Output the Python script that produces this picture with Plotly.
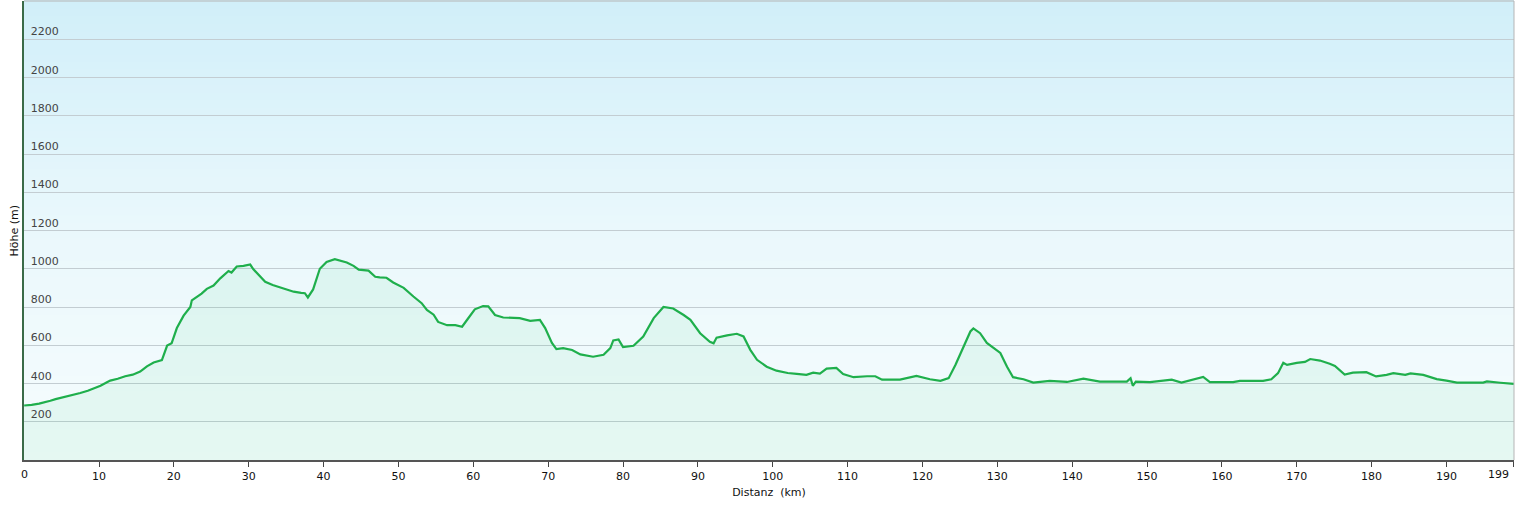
import plotly.graph_objects as go

# Elevation profile: distance (km) and elevation (m)
distanz_km = [
    0, 1, 2, 2.8, 3.5, 4.2, 5, 5.5, 6.5, 7.5, 8.5, 9.5, 10.2, 11, 11.5, 12.5, 13.5, 14.5,
    15.5, 16.4, 17.3, 18.4, 19.1, 19.7, 20.4, 21.3, 22.2, 22.4, 23.7, 24.4, 25.3, 26.2,
    27.3, 27.7, 28.4, 29.3, 30.2, 30.6, 31.4, 32.2, 33.2, 34.2, 35.1, 36, 37, 37.5, 37.9,
    38.6, 39.5, 40.4, 41.5, 42.3, 43.1, 44, 44.7, 46, 46.9, 47.5, 48.4, 49.3, 50.2, 50.7,
    52, 53.1, 53.8, 54.7, 55.3, 56.5, 57.6, 58.5, 59.3, 60.2, 61.3, 62, 62.9, 64, 66.2,
    67.6, 68.9, 69.6, 70.5, 71.1, 72, 73.2, 74.3, 76, 77.4, 78.3, 78.7, 79.4, 80, 81.4,
    82.7, 84.1, 85.4, 86.7, 88.1, 89, 90.3, 91.6, 92.1, 92.5, 93.9, 95.2, 96.1, 97, 97.9,
    99.2, 100.5, 102, 103.2, 104.5, 105.4, 106.3, 107.2, 108.5, 109.4, 110.8, 112.6,
    113.7, 114.6, 117, 119.2, 121, 122.4, 123.5, 124.4, 125.5, 126.4, 126.8, 127.7, 128.6,
    129.5, 130.4, 131.3, 132.1, 133.5, 134.8, 137, 139.3, 141.5, 143.7, 147.3, 147.8,
    148.1, 148.5, 150.4, 153.3, 154.6, 156.2, 157.5, 158.4, 161.5, 162.4, 165.5, 166.6,
    167.5, 168.2, 168.7, 170, 171.1, 171.8, 173.1, 174.4, 175.1, 176.4, 177.5, 179.3,
    180.6, 182, 182.9, 184.5, 185.2, 186.9, 188.7, 190, 191.4, 194.9, 195.4, 197.2, 199,
]
hoehe_m = [
    285, 288, 295, 305, 310, 318, 325, 332, 338, 350, 362, 377, 388, 405, 415, 425, 438, 446,
    462, 490, 510, 522, 598, 610, 690, 755, 800, 835, 870, 895, 912, 950,
    988, 980, 1012, 1015, 1022, 998, 965, 932, 915, 902, 890, 880, 874, 872, 850,
    892, 1000, 1035, 1050, 1042, 1033, 1015, 995, 990, 958, 955, 953, 928, 910, 900,
    855, 820, 785, 760, 722, 705, 705, 697, 740, 788, 805, 803, 758, 745, 742,
    728, 733, 690, 612, 580, 585, 575, 552, 540, 550, 585, 625, 630, 590, 597,
    645, 742, 800, 792, 758, 733, 663, 618, 610, 640, 652, 660, 646, 576, 524,
    488, 467, 455, 450, 445, 457, 452, 478, 482, 450, 433, 438,
    438, 420, 420, 440, 422, 414, 428, 497, 593, 672, 688, 663, 612,
    588, 560, 488, 433, 422, 405, 414, 408, 425, 410, 410, 428,
    388, 410, 407, 420, 405, 420, 434, 407, 407, 414, 414, 422,
    454, 508, 497, 508, 513, 528, 520, 503, 492, 447, 457, 459,
    437, 445, 454, 445, 453, 445, 423, 415, 405, 405, 411, 404, 398,
]

x_ticks = list(range(0, 200, 10))
y_ticks = list(range(200, 2400, 200))
X_MAX = 199
Y_MAX = 2400

FONT = "Verdana, DejaVu Sans, sans-serif"
LINE_GREEN = "#1FAF4C"
TEXT = "#111111"

# background gradient stops (bottom -> top of plot area)
BG_BOTTOM = (246, 252, 253)
BG_MID = (234, 248, 252)
BG_TOP = (209, 239, 249)


def bg_color(t):
    if t < 0.5:
        a, b, f = BG_BOTTOM, BG_MID, t / 0.5
    else:
        a, b, f = BG_MID, BG_TOP, (t - 0.5) / 0.5
    return "rgb({},{},{})".format(*[round(a[i] + (b[i] - a[i]) * f) for i in range(3)])


n_bands = 60
bg_shapes = []
for i in range(n_bands):
    bg_shapes.append(dict(
        type="rect", xref="paper", yref="paper", layer="below",
        x0=0, x1=1, y0=i / n_bands, y1=(i + 1) / n_bands + 0.002,
        fillcolor=bg_color((i + 0.5) / n_bands), line=dict(width=0),
    ))

fig = go.Figure()

fig.add_trace(go.Scatter(
    x=distanz_km, y=hoehe_m,
    mode="lines",
    line=dict(color=LINE_GREEN, width=2.2),
    fill="tozeroy",
    fillcolor="rgba(40, 210, 110, 0.08)",
    showlegend=False,
))

label_font = dict(family=FONT, size=11, color=TEXT)
# end labels and the y title drawn as annotations so they sit exactly where wanted
annotations = [
    dict(x=0, y=0, xref="x", yref="paper", text="0", showarrow=False,
         xanchor="center", yanchor="top", yshift=-6, font=label_font),
    dict(x=X_MAX, y=0, xref="x", yref="paper", text="199", showarrow=False,
         xanchor="right", yanchor="top", xshift=-3, yshift=-6, font=label_font),
    dict(x=0, y=0.5, xref="paper", yref="paper", text="Höhe (m)", showarrow=False,
         textangle=-90, xanchor="center", yanchor="middle", xshift=-10, font=label_font),
]

fig.update_layout(
    width=1516, height=505,
    margin=dict(l=24, r=2, t=1, b=45, autoexpand=False),
    paper_bgcolor="white",
    plot_bgcolor="rgba(0,0,0,0)",
    font=dict(family=FONT, size=11, color=TEXT),
    annotations=annotations,
    shapes=bg_shapes + [
        # top and right frame
        dict(type="line", xref="paper", yref="paper", x0=0, x1=1, y0=1, y1=1,
             line=dict(color="#B5B5B5", width=1)),
        dict(type="line", xref="paper", yref="paper", x0=1, x1=1, y0=0, y1=1,
             line=dict(color="#B5B5B5", width=1)),
    ],
)

fig.update_xaxes(
    range=[-0.02, X_MAX + 0.02],
    tickvals=x_ticks + [X_MAX],
    ticktext=[""] + [str(v) for v in x_ticks[1:]] + [""],
    ticks="outside", ticklen=5, tickcolor="#444444",
    showgrid=False, zeroline=False, automargin=False,
    showline=True, linecolor="#555555", linewidth=2,
    title=dict(text="Distanz  (km)", standoff=6, font=dict(size=11)),
)

fig.update_yaxes(
    range=[0, Y_MAX],
    tickvals=y_ticks,
    ticklabelposition="inside top",
    ticklabelstandoff=5,
    ticks="", showgrid=True, gridcolor="#C3CDD2", gridwidth=1,
    zeroline=False, automargin=False,
    showline=True, linecolor="#3A6B48", linewidth=2,
)

fig.write_html("out.html", config={"displayModeBar": False},
               post_script="document.body.style.margin = '0';")
